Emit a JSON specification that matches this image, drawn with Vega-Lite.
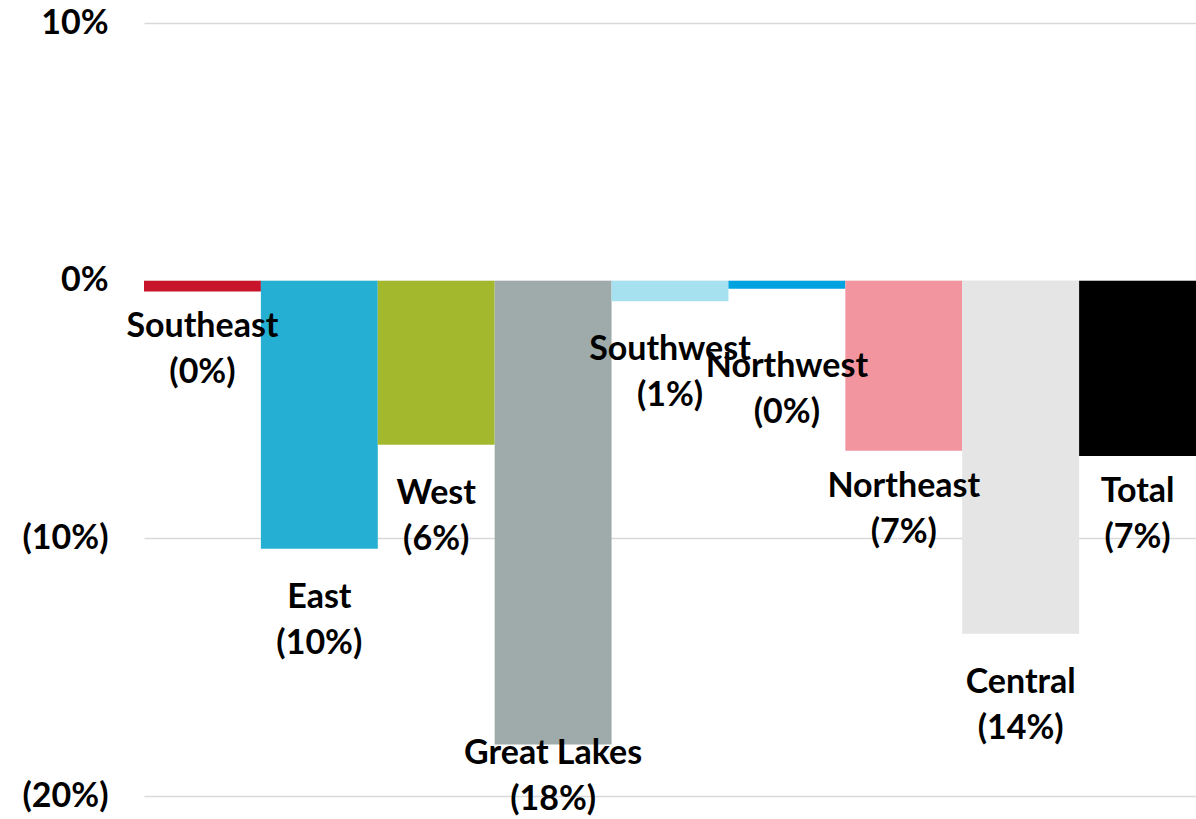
{
  "$schema": "https://vega.github.io/schema/vega-lite/v6.json",
  "width": 1052,
  "height": 773,
  "autosize": {"type": "none"},
  "padding": {"left": 144, "top": 23, "right": 0, "bottom": 23},
  "background": "white",
  "config": {"view": {"stroke": null}, "font": "Lato"},
  "data": {
    "values": [
      {"region": "Southeast", "value": -0.0042, "label": "Southeast\n(0%)"},
      {"region": "East", "value": -0.104, "label": "East\n(10%)"},
      {"region": "West", "value": -0.0637, "label": "West\n(6%)"},
      {"region": "Great Lakes", "value": -0.18, "label": "Great Lakes\n(18%)"},
      {"region": "Southwest", "value": -0.008, "label": "Southwest\n(1%)"},
      {"region": "Northwest", "value": -0.0031, "label": "Northwest\n(0%)"},
      {"region": "Northeast", "value": -0.066, "label": "Northeast\n(7%)"},
      {"region": "Central", "value": -0.137, "label": "Central\n(14%)"},
      {"region": "Total", "value": -0.068, "label": "Total\n(7%)"}
    ]
  },
  "encoding": {
    "x": {
      "field": "region",
      "type": "nominal",
      "sort": null,
      "axis": null,
      "scale": {
        "domain": ["Southeast", "East", "West", "Great Lakes", "Southwest", "Northwest", "Northeast", "Central", "Total"],
        "paddingInner": 0,
        "paddingOuter": 0
      }
    }
  },
  "layer": [
    {
      "mark": {"type": "bar"},
      "encoding": {
        "y": {
          "field": "value",
          "type": "quantitative",
          "scale": {"domain": [-0.2, 0.1], "nice": false, "zero": false},
          "axis": {
            "title": null,
            "values": [-0.2, -0.1, 0, 0.1],
            "grid": true,
            "gridColor": "#D9D9D9",
            "gridWidth": 1.5,
            "domain": false,
            "ticks": false,
            "labelPadding": 36,
            "labelFontSize": 34,
            "labelFontWeight": "bold",
            "labelColor": "black",
            "labelFont": "Lato",
            "labelExpr": "datum.value < 0 ? '(' + format(-datum.value, '.0%') + ')' : format(datum.value, '.0%')"
          }
        },
        "color": {
          "field": "region",
          "type": "nominal",
          "legend": null,
          "scale": {
            "domain": ["Southeast", "East", "West", "Great Lakes", "Southwest", "Northwest", "Northeast", "Central", "Total"],
            "range": ["#C8142A", "#25AFD3", "#A4B82E", "#9FABAA", "#A6E1EF", "#00A3E0", "#F3959F", "#E5E5E5", "#000000"]
          }
        }
      }
    },
    {
      "transform": [{"filter": {"field": "region", "oneOf": ["Southeast", "Northeast", "Total"]}}],
      "mark": {"type": "text", "dy": 46, "baseline": "alphabetic", "align": "center", "lineBreak": "\n", "fontSize": 34, "fontWeight": "bold", "lineHeight": 46, "color": "black"},
      "encoding": {"y": {"field": "value", "type": "quantitative"}, "text": {"field": "label"}}
    },
    {
      "transform": [{"filter": {"field": "region", "oneOf": ["East", "West", "Southwest", "Central"]}}],
      "mark": {"type": "text", "dy": 59, "baseline": "alphabetic", "align": "center", "lineBreak": "\n", "fontSize": 34, "fontWeight": "bold", "lineHeight": 46, "color": "black"},
      "encoding": {"y": {"field": "value", "type": "quantitative"}, "text": {"field": "label"}}
    },
    {
      "transform": [{"filter": {"field": "region", "oneOf": ["Northwest"]}}],
      "mark": {"type": "text", "dy": 88, "baseline": "alphabetic", "align": "center", "lineBreak": "\n", "fontSize": 34, "fontWeight": "bold", "lineHeight": 46, "color": "black"},
      "encoding": {"y": {"field": "value", "type": "quantitative"}, "text": {"field": "label"}}
    },
    {
      "transform": [{"filter": {"field": "region", "oneOf": ["Great Lakes"]}}],
      "mark": {"type": "text", "dy": 20, "baseline": "alphabetic", "align": "center", "lineBreak": "\n", "fontSize": 34, "fontWeight": "bold", "lineHeight": 46, "color": "black"},
      "encoding": {"y": {"field": "value", "type": "quantitative"}, "text": {"field": "label"}}
    }
  ]
}
